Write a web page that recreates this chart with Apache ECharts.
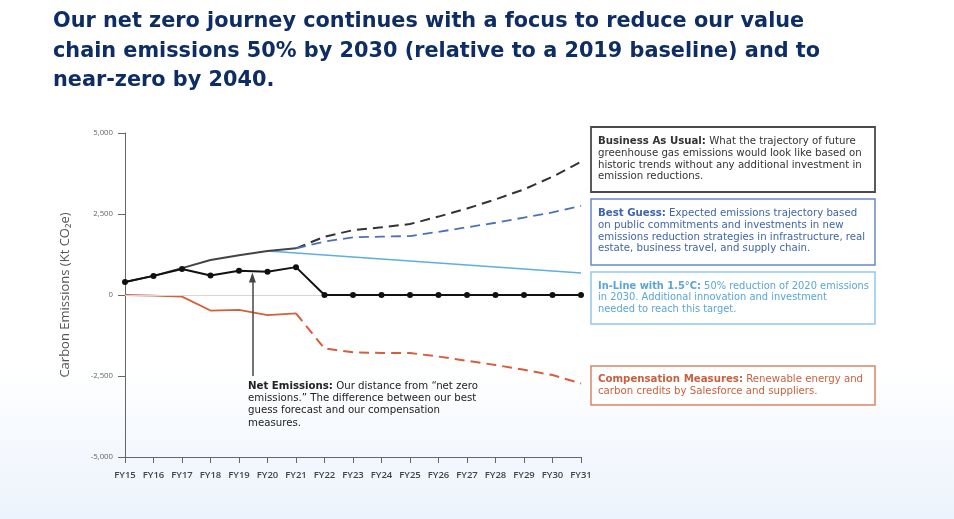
<!DOCTYPE html>
<html>
<head>
<meta charset="utf-8">
<script src="https://cdn.jsdelivr.net/npm/echarts@6/dist/echarts.min.js"></script>
<style>html,body{margin:0;padding:0;background:#fff}#c{width:954px;height:519px}</style>
</head>
<body>
<div id="c"></div>
<script>
var categories = ['FY15','FY16','FY17','FY18','FY19','FY20','FY21','FY22','FY23','FY24','FY25','FY26','FY27','FY28','FY29','FY30','FY31'];
var yTicks = [-5000, -2500, 0, 2500, 5000];
var netEmissions = [400, 590, 800, 600, 750, 720, 860, 0, 0, 0, 0, 0, 0, 0, 0, 0, 0];
var grossHistoric = [400, 590, 830, 1080, 1230, 1360, 1440, null, null, null, null, null, null, null, null, null, null];
var businessAsUsual = [null, null, null, null, null, null, 1440, 1800, 2000, 2090, 2190, 2420, 2670, 2950, 3260, 3650, 4110];
var bestGuess = [null, null, null, null, null, null, 1440, 1650, 1780, 1800, 1820, 1950, 2090, 2230, 2390, 2550, 2750];
var inLine15C = [null, null, null, null, null, 1360, null, null, null, null, null, null, null, null, null, null, 680];
var compensationHistoric = [0, -20, -50, -480, -460, -620, -570, null, null, null, null, null, null, null, null, null, null];
var compensationForecast = [null, null, null, null, null, null, -570, -1650, -1770, -1790, -1790, -1900, -2030, -2160, -2310, -2470, -2730];
var netArrow = { x: 4.47, from: -2500, to: 540 };

var FONT = 'Open Sans';
var BOXFONT = 'DejaVu Sans';
var chart = echarts.init(document.getElementById('c'), null, {renderer: 'canvas'});

function box(y, h, stroke, lw, color, bold, rest, lh, dy, fs) {
  return {
    type: 'group', children: [
      {type: 'rect', shape: {x: 591, y: y, width: 284, height: h}, style: {fill: '#fff', stroke: stroke, lineWidth: lw}, z: 10},
      {type: 'text', x: 598, y: y + dy, z: 11, style: {
        text: '{b|' + bold + '}' + rest,
        fontFamily: BOXFONT, fontSize: fs, fill: color, lineHeight: lh,
        rich: {b: {fontFamily: BOXFONT, fontSize: fs, fontWeight: 'bold', fill: color, lineHeight: lh}}
      }}
    ]
  };
}

var option = {
  animation: false,
  backgroundColor: 'transparent',
  title: {
    text: 'Our net zero journey continues with a focus to reduce our value\nchain emissions 50% by 2030 (relative to a 2019 baseline) and to\nnear-zero by 2040.',
    left: 53, top: 7, padding: 0,
    textStyle: {fontFamily: 'DejaVu Sans', fontWeight: 'bold', fontSize: 20.8, lineHeight: 29.5, color: '#0d2d64'}
  },
  grid: {left: 125, right: 373, top: 133, bottom: 62, containLabel: false},
  xAxis: [{
    type: 'category', data: categories, boundaryGap: false,
    axisLine: {onZero: false, lineStyle: {color: '#666', width: 1}},
    axisTick: {length: 6, lineStyle: {color: '#666'}},
    axisLabel: {fontFamily: FONT, fontSize: 9.5, color: '#444', fontWeight: 600, margin: 13},
    splitLine: {show: false}
  }, {
    type: 'value', min: 0, max: 16, show: false
  }],
  yAxis: {
    type: 'value', min: yTicks[0], max: yTicks[yTicks.length - 1], interval: 2500,
    name: 'Carbon Emissions (Kt CO\u2082e)', nameLocation: 'middle', nameGap: 53,
    nameTextStyle: {fontFamily: FONT, fontSize: 13, color: '#555'},
    axisLine: {show: true, lineStyle: {color: '#666', width: 1}},
    axisTick: {show: true, length: 7, lineStyle: {color: '#666'}},
    axisLabel: {fontFamily: FONT, fontSize: 7.8, color: '#666', margin: 12,
      formatter: function (v) { return (v < 0 ? '-' : '') + Math.abs(v).toLocaleString('en-US'); }},
    splitLine: {show: false}
  },
  graphic: [
    {type: 'rect', z: -100, silent: true, shape: {x: 0, y: 0, width: 954, height: 519},
      style: {fill: new echarts.graphic.LinearGradient(0, 0, 0, 1, [
        {offset: 0, color: '#ffffff'}, {offset: 0.7, color: '#ffffff'}, {offset: 1, color: '#ecf3fc'}])}},
    box(127, 65, '#4a4a4a', 1.8, '#333', 'Business As Usual:', ' What the trajectory of future\ngreenhouse gas emissions would look like based on\nhistoric trends without any additional investment in\nemission reductions.', 11.6, 9, 10.2),
    box(199, 66, '#6589c8', 1.5, '#3f64aa', 'Best Guess:', ' Expected emissions trajectory based\non public commitments and investments in new\nemissions reduction strategies in infrastructure, real\nestate, business travel, and supply chain.', 11.6, 9, 10.2),
    box(272, 52, '#93c6eb', 1.5, '#5aa5db', 'In-Line with 1.5\u00B0C:', ' 50% reduction of 2020 emissions\nin 2030. Additional innovation and investment\nneeded to reach this target.', 11.6, 8.5, 9.9),
    box(366, 39, '#db8465', 1.5, '#c9603d', 'Compensation Measures:', ' Renewable energy and\ncarbon credits by Salesforce and suppliers.', 12.2, 7.5, 10.2),
    {type: 'text', x: 248, y: 380, z: 11, style: {
      text: '{b|Net Emissions:} Our distance from \u201Cnet zero\nemissions.\u201D The difference between our best\nguess forecast and our compensation\nmeasures.',
      fontFamily: BOXFONT, fontSize: 10.2, fill: '#222', lineHeight: 12.3,
      rich: {b: {fontFamily: BOXFONT, fontSize: 10.2, fontWeight: 'bold', fill: '#222', lineHeight: 12.3}}
    }}
  ],
  series: [
    {name: 'Zero', type: 'line', data: [], markLine: {silent: true, symbol: 'none', label: {show: false},
      lineStyle: {color: '#d6d6d6', width: 1, type: 'solid'}, data: [{yAxis: 0}]}},
    {name: 'Gross', type: 'line', data: grossHistoric, symbol: 'none', lineStyle: {color: '#444', width: 2}, z: 3},
    {name: 'Business As Usual', type: 'line', data: businessAsUsual, symbol: 'none', lineStyle: {color: '#333', width: 2, type: [10, 6]}, z: 3},
    {name: 'Best Guess', type: 'line', data: bestGuess, symbol: 'none', lineStyle: {color: '#4a72b8', width: 1.8, type: [10, 6]}, z: 3},
    {name: 'In-Line with 1.5C', type: 'line', data: inLine15C, connectNulls: true, symbol: 'none', lineStyle: {color: '#5eaee0', width: 1.6}, z: 2},
    {name: 'Compensation', type: 'line', data: compensationHistoric, symbol: 'none', lineStyle: {color: '#d65e3a', width: 1.8}, z: 3},
    {name: 'Compensation Forecast', type: 'line', data: compensationForecast, symbol: 'none', lineStyle: {color: '#d65e3a', width: 2, type: [10, 6]}, z: 3},
    {name: 'Net Emissions', type: 'line', data: netEmissions, symbol: 'circle', symbolSize: 6,
      itemStyle: {color: '#111'}, lineStyle: {color: '#111', width: 2}, z: 5},
    {name: 'Arrow', type: 'line', xAxisIndex: 1, data: [], markLine: {silent: true, symbol: ['none', 'triangle'], symbolSize: [7, 10],
      label: {show: false}, lineStyle: {color: '#444', width: 1.5, type: 'solid'},
      data: [[{coord: [netArrow.x, netArrow.from]}, {coord: [netArrow.x, netArrow.to]}]]}}
  ]
};
chart.setOption(option);
</script>
</body>
</html>
